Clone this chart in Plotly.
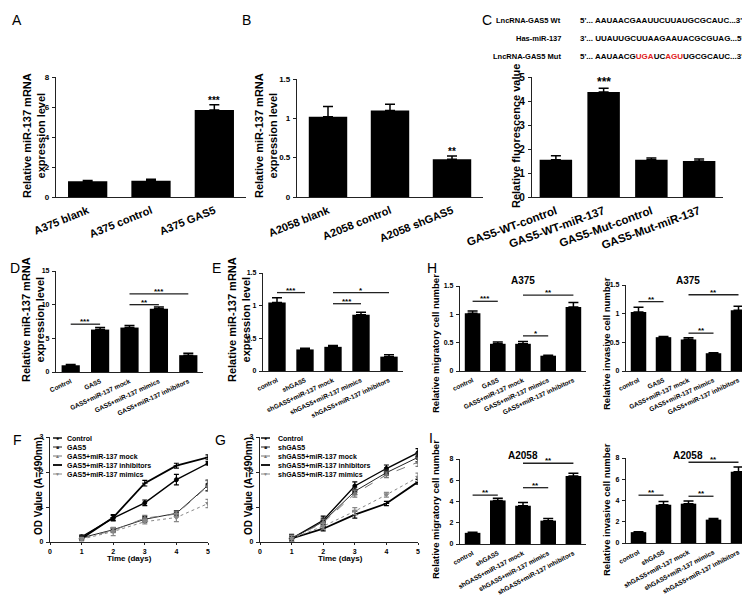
import plotly.graph_objects as go

# ---------------- data ----------------
a_cats = ["A375 blank", "A375 control", "A375 GAS5"]
a_vals = [1.05, 1.08, 5.8]
a_err = [0.05, 0.1, 0.35]

b_cats = ["A2058 blank", "A2058 control", "A2058 shGAS5"]
b_vals = [1.02, 1.10, 0.48]
b_err = [0.13, 0.08, 0.04]

c_cats = ["GAS5-WT-control", "GAS5-WT-miR-137", "GAS5-Mut-control", "GAS5-Mut-miR-137"]
c_vals = [1.55, 4.38, 1.55, 1.50]
c_err = [0.17, 0.15, 0.08, 0.08]

d_cats = ["Control", "GAS5", "GAS5+miR-137 mock", "GAS5+miR-137 mimics", "GAS5+miR-137 inhibitors"]
d_vals = [1.0, 6.3, 6.6, 9.4, 2.5]
d_err = [0.1, 0.3, 0.3, 0.25, 0.3]

e_cats = ["control", "shGAS5", "shGAS5+miR-137 mock", "shGAS5+miR-137 mimics", "shGAS5+miR-137 inhibitors"]
e_vals = [1.05, 0.33, 0.37, 0.86, 0.22]
e_err = [0.07, 0.02, 0.02, 0.04, 0.03]

h_cats = ["control", "GAS5", "GAS5+miR-137 mock", "GAS5+miR-137 mimics", "GAS5+miR-137 inhibitors"]
h1_vals = [1.02, 0.48, 0.48, 0.27, 1.13]
h1_err = [0.04, 0.03, 0.04, 0.01, 0.08]
h2_vals = [1.03, 0.59, 0.55, 0.31, 1.06]
h2_err = [0.08, 0.01, 0.03, 0.01, 0.07]

i_cats = ["control", "shGAS5", "shGAS5+miR-137 mock", "shGAS5+miR-137 mimics", "shGAS5+miR-137 inhibitors"]
i1_vals = [1.05, 4.1, 3.6, 2.2, 6.4]
i1_err = [0.05, 0.2, 0.3, 0.2, 0.25]
i2_vals = [1.02, 3.6, 3.7, 2.2, 6.7]
i2_err = [0.05, 0.3, 0.25, 0.1, 0.45]

days = [1, 2, 3, 4, 5]
f_names = ["Control", "GAS5", "GAS5+miR-137 mock", "GAS5+miR-137 inhibitors", "GAS5+miR-137 mimics"]
f_vals = [
    [0.15, 0.68, 1.12, 1.78, 2.25],
    [0.12, 0.35, 0.65, 0.82, 1.62],
    [0.10, 0.33, 0.68, 0.80, 1.60],
    [0.10, 0.70, 1.68, 2.18, 2.42],
    [0.08, 0.30, 0.58, 0.70, 1.10],
]
f_err = [
    [0.05, 0.08, 0.08, 0.15, 0.05],
    [0.05, 0.06, 0.08, 0.08, 0.15],
    [0.05, 0.06, 0.08, 0.08, 0.15],
    [0.05, 0.08, 0.08, 0.07, 0.07],
    [0.05, 0.12, 0.06, 0.12, 0.12],
]
g_names = ["Control", "shGAS5", "shGAS5+miR-137 mock", "shGAS5+miR-137 inhibitors", "shGAS5+miR-137 mimics"]
g_vals = [
    [0.10, 0.62, 1.60, 2.10, 2.55],
    [0.10, 0.58, 1.45, 1.98, 2.42],
    [0.10, 0.55, 1.38, 1.92, 2.28],
    [0.10, 0.38, 0.78, 1.10, 1.72],
    [0.10, 0.45, 0.88, 1.35, 1.85],
]
g_err = [
    [0.12, 0.12, 0.12, 0.10, 0.12],
    [0.10, 0.10, 0.10, 0.08, 0.12],
    [0.10, 0.10, 0.10, 0.08, 0.12],
    [0.08, 0.06, 0.10, 0.06, 0.07],
    [0.08, 0.08, 0.10, 0.07, 0.12],
]

sig_d = [(0, 1, 7.1, "***"), (2, 3, 10.0, "**"), (2, 4, 11.6, "***")]
sig_e = [(0, 1, 1.2, "***"), (2, 3, 1.03, "***"), (2, 4, 1.2, "*")]
sig_h1 = [(0, 1, 1.23, "***"), (2, 3, 0.62, "*"), (2, 4, 1.34, "**")]
sig_h2 = [(0, 1, 1.21, "**"), (2, 3, 0.66, "**"), (2, 4, 1.33, "**")]
sig_i1 = [(0, 1, 4.6, "**"), (2, 3, 5.3, "**"), (2, 4, 7.6, "**")]
sig_i2 = [(0, 1, 4.5, "**"), (2, 3, 4.4, "**"), (2, 4, 7.6, "**")]

# ---------------- layout helpers ----------------
W, H = 750, 595
FONT = "Liberation Sans, Arial, sans-serif"
fig = go.Figure()
layout = dict(width=W, height=H, margin=dict(l=0, r=0, t=0, b=0, autoexpand=False),
              paper_bgcolor="white", plot_bgcolor="white", showlegend=False,
              font=dict(family=FONT, color="black"))
annotations = []
shapes = []


def px(x):
    return x / W


def py(y):
    return 1 - y / H


def add_axes(k, box, yrange, dtick, xrange, ytickfont=8, xtick=None):
    l, t, r, b = box
    xs = "xaxis" if k == 1 else f"xaxis{k}"
    ys = "yaxis" if k == 1 else f"yaxis{k}"
    xa = dict(domain=[px(l), px(r)], anchor=("y" if k == 1 else f"y{k}"), range=xrange,
              showline=True, linecolor="#222", linewidth=1.3, showgrid=False, zeroline=False,
              ticks="", fixedrange=True, automargin=False)
    if xtick:
        xa.update(xtick)
    ya = dict(domain=[py(b), py(t)], anchor=("x" if k == 1 else f"x{k}"), range=yrange,
              showline=True, linecolor="#222", linewidth=1.3, showgrid=False, zeroline=False,
              ticks="outside", ticklen=3, tickwidth=1, tickcolor="#222", dtick=dtick, tick0=0,
              tickfont=dict(size=ytickfont, family=FONT, weight="bold"), ticklabelstandoff=1,
              automargin=False)
    layout[xs] = xa
    layout[ys] = ya


def bar_panel(k, box, cats, vals, errs, yrange, dtick, angle, catfont, ytickfont=8, width=0.62):
    n = len(cats)
    add_axes(k, box, yrange, dtick, [-0.5, n - 0.5], ytickfont,
             dict(tickmode="array", tickvals=list(range(n)), ticktext=cats, tickangle=angle,
                  tickfont=dict(size=catfont, family=FONT, weight="bold"), ticklabelstandoff=2))
    sx = "x" if k == 1 else f"x{k}"
    sy = "y" if k == 1 else f"y{k}"
    fig.add_trace(go.Bar(x=list(range(n)), y=vals, width=width, marker=dict(color="black", line=dict(width=0)),
                         error_y=dict(type="data", array=errs, arrayminus=[0] * n, symmetric=False,
                                      color="black", thickness=1.5, width=5),
                         xaxis=sx, yaxis=sy))
    return sx, sy


def sig_marks(sx, sy, sigs, size=9):
    for i, j, y, lab in sigs:
        shapes.append(dict(type="line", xref=sx, yref=sy, x0=i, x1=j, y0=y, y1=y,
                           line=dict(color="#222", width=1.3)))
        annotations.append(dict(xref=sx, yref=sy, x=(i + j) / 2, y=y, text=lab, showarrow=False,
                                yanchor="bottom", yshift=-4, font=dict(size=size, family=FONT, weight="bold")))


def star(sx, sy, i, y, lab, size=10):
    annotations.append(dict(xref=sx, yref=sy, x=i, y=y, text=lab, showarrow=False,
                            yanchor="bottom", yshift=-3, font=dict(size=size, family=FONT, weight="bold")))


def text(x, y, s, size=11, angle=0, xanchor="center", color="black", weight="bold"):
    annotations.append(dict(xref="paper", yref="paper", x=px(x), y=py(y), text=s, showarrow=False,
                            textangle=angle, xanchor=xanchor, yanchor="middle",
                            font=dict(size=size, family=FONT, color=color, weight=weight)))


# ---------------- panels ----------------
sx, sy = bar_panel(1, (48, 69, 238, 189), a_cats, a_vals, a_err, [0, 8], 2, -22, 11)
star(sx, sy, 2, a_vals[2] + a_err[2], "***")
sx, sy = bar_panel(2, (289, 71, 475, 189), b_cats, b_vals, b_err, [0, 1.5], 0.5, -22, 11)
star(sx, sy, 2, b_vals[2] + b_err[2], "**")
sx, sy = bar_panel(3, (524, 69, 715, 189), c_cats, c_vals, c_err, [0, 5], 1, -20, 11.5, ytickfont=10, width=0.68)
star(sx, sy, 1, c_vals[1] + c_err[1], "***", size=12)

sx, sy = bar_panel(4, (48, 263, 195, 364), d_cats, d_vals, d_err, [0, 15], 5, -25, 6.5, ytickfont=7)
sig_marks(sx, sy, sig_d, 8)
sx, sy = bar_panel(5, (255, 265, 395, 363), e_cats, e_vals, e_err, [0, 1.5], 0.5, -25, 6.5, ytickfont=7)
sig_marks(sx, sy, sig_e, 8)
sx, sy = bar_panel(6, (452, 278, 578, 363), h_cats, h1_vals, h1_err, [0, 1.5], 0.5, -25, 6.5, ytickfont=7)
sig_marks(sx, sy, sig_h1, 8)
sx, sy = bar_panel(7, (618, 277, 743, 363), h_cats, h2_vals, h2_err, [0, 1.5], 0.5, -25, 6.5, ytickfont=7)
sig_marks(sx, sy, sig_h2, 8)
sx, sy = bar_panel(8, (452, 451, 578, 536), i_cats, i1_vals, i1_err, [0, 8], 2, -28, 6.5, ytickfont=7)
sig_marks(sx, sy, sig_i1, 8)
sx, sy = bar_panel(9, (618, 450, 743, 535), i_cats, i2_vals, i2_err, [0, 8], 2, -28, 6.5, ytickfont=7)
sig_marks(sx, sy, sig_i2, 8)

# line panels
styles = [
    dict(symbol="circle", color="black", dash="solid", width=1.4, size=4),
    dict(symbol="square", color="#222", dash="solid", width=1.0, size=4),
    dict(symbol="triangle-up", color="#777", dash="dash", width=1.0, size=4),
    dict(symbol="line-ew", color="black", dash="solid", width=1.8, size=4),
    dict(symbol="triangle-down", color="#888", dash="dot", width=1.0, size=4),
]
line_xtick = dict(tickmode="linear", tick0=0, dtick=1, ticks="outside", ticklen=2, tickcolor="#222",
                  tickfont=dict(size=7, family=FONT, weight="bold"), ticklabelstandoff=0)
for k, box, vals, errs in [(10, (42, 429, 200, 534), f_vals, f_err), (11, (252, 429, 410, 534), g_vals, g_err)]:
    add_axes(k, box, [0, 3], 1, [0, 5], 7, line_xtick)
    for v, e, st in zip(vals, errs, styles):
        fig.add_trace(go.Scatter(x=days, y=v, mode="lines+markers",
                                 line=dict(color=st["color"], dash=st["dash"], width=st["width"]),
                                 marker=dict(symbol=st["symbol"], size=st["size"], color=st["color"],
                                             line=dict(color=st["color"], width=1)),
                                 error_y=dict(type="data", array=e, color=st["color"], thickness=1.2, width=2.5),
                                 xaxis=f"x{k}", yaxis=f"y{k}"))

# manual legends
glyphs = ["●", "■", "▲", "", "▼"]
rows = [430, 439, 448, 457, 466]
for (x0, tx, names) in [(45, 57, f_names), (253, 268, g_names)]:
    for nm, st, gl, ry in zip(names, styles, glyphs, rows):
        shapes.append(dict(type="line", xref="paper", yref="paper", x0=px(x0), x1=px(x0 + 9), y0=py(ry), y1=py(ry),
                           line=dict(color=st["color"], width=st["width"], dash=("dash" if st["dash"] != "solid" else "solid"))))
        if gl:
            text(x0 + 4.5, ry, gl, size=5, color=st["color"])
        text(tx, ry, nm, size=7, xanchor="left")

# ---------------- text ----------------
for lab, x, y in [("A", 9, 12), ("B", 238, 12), ("C", 479, 12), ("D", 7, 260), ("E", 208, 260),
                  ("H", 424, 260), ("F", 9, 432), ("G", 212, 432), ("I", 423, 430)]:
    text(x, y, lab, size=14, weight="normal")

ytitle = "Relative miR-137 mRNA<br>expression level"
text(26, 128, ytitle, size=11, angle=-90)
text(258, 128, ytitle, size=11, angle=-90)
text(508, 128, "Relative fluorescence value", size=11, angle=-90)
text(25, 312, ytitle, size=11, angle=-90)
text(231, 312, ytitle, size=11, angle=-90)
text(427, 336, "Relative migratory cell number", size=9.5, angle=-90)
text(598, 336, "Relative invasive cell number", size=9.5, angle=-90)
text(427, 502, "Relative migratory cell number", size=9.5, angle=-90)
text(598, 502, "Relative invasive cell number", size=9.5, angle=-90)
text(30, 478, "OD Value (A=490nm)", size=10, angle=-90)
text(240, 478, "OD Value (A=490nm)", size=10, angle=-90)
text(121, 550, "Time (days)", size=8)
text(332, 550, "Time (days)", size=8)
text(515, 273, "A375", size=10)
text(680, 273, "A375", size=10)
text(515, 447, "A2058", size=10)
text(680, 447, "A2058", size=10)

# sequences
text(555, 12, "LncRNA-GAS5 Wt", size=7.5, xanchor="right")
text(555, 30, "Has-miR-137", size=7.5, xanchor="right")
text(555, 48, "LncRNA-GAS5 Mut", size=7.5, xanchor="right")
text(570, 12, "5'... AAUAACGAAUUCUUAUGCGCAUC...3'", size=8, xanchor="left")
text(570, 30, "3'... UUAUUGCUUAAGAAUACGCGUAG...5'", size=8, xanchor="left")
text(570, 48, "5'... AAUAACG<span style='color:#e02020'>UGA</span>UC<span style='color:#e02020'>AGU</span>UGCGCAUC...3'",
     size=8, xanchor="left")

layout["annotations"] = annotations
layout["shapes"] = shapes
fig.update_layout(**layout)
fig.write_html("out.html")
